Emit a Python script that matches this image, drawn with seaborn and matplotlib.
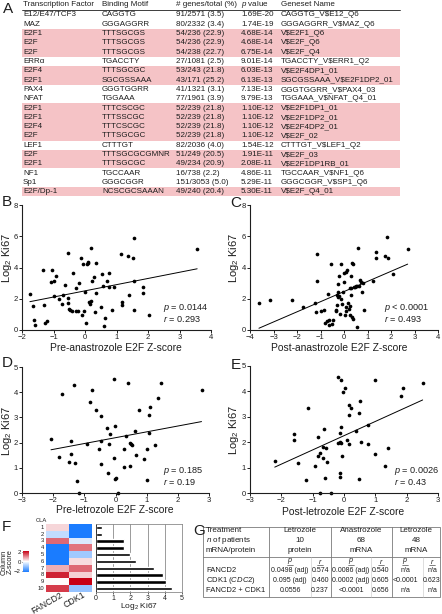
import numpy as np
import pandas as pd
import matplotlib
matplotlib.use("Agg")
import matplotlib.pyplot as plt
import seaborn as sns
from matplotlib.colors import LinearSegmentedColormap
from matplotlib.patches import Rectangle

# -------------------------
# Panel A: enrichment table
# -------------------------
tf_names = ["E12/E47/TCF3", "MAZ", "E2F1", "E2F", "E2F", "ERRα", "E2F4", "E2F1", "PAX4", "NFAT",
            "E2F1", "E2F1", "E2F4", "E2F", "LEF1", "E2F", "E2F1", "NF1", "Sp1", "E2F/Dp-1"]
motifs = ["CAGGTG", "GGGAGGRR", "TTTSGCGS", "TTTSGCGS", "TTTSGCGS", "TGACCTY", "TTTSGCGC", "SGCGSSAAA",
          "GGGTGGRR", "TGGAAA", "TTTCSCGC", "TTTSSCGC", "TTTCSCGC", "TTTSGCGC", "CTTTGT", "TTTSGCGCGMNR",
          "TTTSGCGC", "TGCCAAR", "GGGCGGR", "NCSCGCSAAAN"]
gene_counts = ["91/2571 (3.5)", "80/2332 (3.4)", "54/236 (22.9)", "54/236 (22.9)", "54/238 (22.7)",
               "27/1081 (2.5)", "53/243 (21.8)", "43/171 (25.2)", "41/1321 (3.1)", "77/1961 (3.9)",
               "52/239 (21.8)", "52/239 (21.8)", "52/239 (21.8)", "52/239 (21.8)", "82/2036 (4.0)",
               "51/249 (20.5)", "49/234 (20.9)", "16/738 (2.2)", "151/3053 (5.0)", "49/240 (20.4)"]
p_values = ["1.69E-20", "1.74E-19", "4.68E-14", "4.68E-14", "6.75E-14", "9.01E-14", "6.03E-13", "6.13E-13",
            "7.13E-13", "9.79E-13", "1.10E-12", "1.10E-12", "1.10E-12", "1.10E-12", "1.54E-12", "1.91E-11",
            "2.08E-11", "4.86E-11", "5.29E-11", "5.30E-11"]
geneset_names = ["CAGGTG_V$E12_Q6", "GGGAGGRR_V$MAZ_Q6", "V$E2F1_Q6", "V$E2F_Q6", "V$E2F_Q4",
                 "TGACCTY_V$ERR1_Q2", "V$E2F4DP1_01", "SGCGSSAAA_V$E2F1DP2_01", "GGGTGGRR_V$PAX4_03",
                 "TGGAAA_V$NFAT_Q4_01", "V$E2F1DP1_01", "V$E2F1DP2_01", "V$E2F4DP2_01", "V$E2F_02",
                 "CTTTGT_V$LEF1_Q2", "V$E2F_03", "V$E2F1DP1RB_01", "TGCCAAR_V$NF1_Q6", "GGGCGGR_V$SP1_Q6",
                 "V$E2F_Q4_01"]
table_header = ["Transcription Factor", "Binding Motif", "# genes/total (%)", "$p$ value", "Geneset Name"]
e2f_rows = [2, 3, 4, 6, 7, 10, 11, 12, 13, 15, 16, 19]

# -------------------------
# Panels B-E: scatter data (E2F Z-score vs log2 Ki67)
# -------------------------
pre_ana_z = [-1.75, -1.64, -1.63, -1.58, -1.32, -1.31, -1.27, -1.22, -1.09, -1.04, -1.0, -0.93, -0.98,
             -0.81, -0.73, -0.71, -0.63, -0.55, -0.54, -0.55, -0.52, -0.47, -0.39, -0.41, -0.30, -0.28,
             -0.22, -0.18, -0.14, -0.07, -0.09, -0.02, 0.01, 0.04, 0.06, 0.09, 0.11, 0.14, 0.16, 0.18,
             0.20, 0.22, 0.27, 0.32, 0.35, 0.36, 0.51, 0.53, 0.58, 0.60, 0.65, 0.70, 0.76, 0.77, 0.86,
             0.93, 1.15, 1.17, 1.16, 1.35, 1.41, 1.51, 1.57, 1.57, 1.55, 1.83, 1.83, 2.02, 3.56]
pre_ana_ki67 = [2.29, 1.51, 0.63, 0.29, 3.81, 1.62, 0.48, 0.57, 3.05, 3.81, 3.12, 3.43, 2.17, 2.0, 1.68,
                2.21, 2.9, 2.06, 4.95, 1.71, 1.37, 1.26, 3.64, 1.22, 1.22, 2.69, 1.22, 3.01, 4.59, 4.21,
                0.99, 1.22, 2.44, 0.42, 4.21, 4.32, 4.36, 1.79, 1.64, 1.88, 5.22, 3.16, 3.41, 1.16, 4.29,
                2.38, 1.47, 3.56, 2.84, 0.25, 0.78, 3.14, 2.76, 3.66, 1.28, 2.78, 4.88, 1.79, 1.62, 4.76,
                2.25, 4.61, 5.92, 3.12, 1.26, 2.36, 2.74, 0.95, 5.18]

post_ana_z = [-3.62, -3.13, -2.23, -1.76, -1.25, -1.21, -1.15, -1.13, -0.96, -0.87, -0.82, -0.71, -0.68,
              -0.65, -0.64, -0.54, -0.52, -0.48, -0.35, -0.33, -0.30, -0.28, -0.27, -0.26, -0.24, -0.20,
              -0.21, -0.17, -0.14, -0.11, -0.10, -0.06, -0.01, 0.0, 0.03, 0.07, 0.07, 0.09, 0.14, 0.16,
              0.21, 0.24, 0.26, 0.28, 0.27, 0.30, 0.31, 0.33, 0.33, 0.37, 0.38, 0.43, 0.45, 0.51, 0.54,
              0.57, 0.61, 0.65, 0.68, 0.71, 0.77, 0.82, 0.85, 1.22, 1.38, 1.38, 1.73, 1.84, 1.87, 2.07, 2.71]
post_ana_ki67 = [1.75, 1.94, 1.89, 1.45, 1.71, 1.16, 4.88, 3.16, 1.24, 1.26, 0.46, 0.57, 2.32, 0.32, 0.61,
                 4.23, 0.38, 0.67, 1.24, 1.31, 1.62, 2.21, 2.42, 2.95, 2.13, 2.17, 3.43, 1.05, 4.21, 2.0,
                 1.68, 2.46, 3.09, 3.62, 0.99, 1.47, 1.22, 3.73, 3.83, 1.73, 1.37, 2.67, 0.95, 2.25, 1.54,
                 3.45, 2.67, 4.32, 0.82, 4.25, 0.69, 2.74, 2.78, 2.84, 0.21, 2.84, 5.22, 2.84, 3.20, 3.09,
                 2.42, 3.01, 1.26, 3.14, 4.99, 4.61, 4.74, 5.94, 4.59, 3.58, 5.20]

pre_let_z = [-2.07, -1.80, -1.73, -1.49, -1.43, -1.43, -1.32, -1.30, -1.22, -1.17, -0.93, -0.82, -0.74,
             -0.61, -0.54, -0.48, -0.48, -0.46, -0.28, -0.24, -0.22, -0.18, -0.06, -0.06, -0.03, -0.01,
             0.03, 0.09, 0.27, 0.28, 0.33, 0.39, 0.45, 0.46, 0.49, 0.52, 0.62, 0.65, 0.74, 0.90, 1.0,
             1.02, 1.07, 1.09, 1.11, 1.26, 1.37, 1.45, 2.76]
pre_let_ki67 = [2.16, 1.44, 3.93, 1.23, 1.55, 2.05, 4.29, 1.20, 0.48, 0.0, 1.93, 3.60, 4.09, 3.31, 1.76,
                3.04, 1.16, 2.08, 2.56, 0.80, 1.96, 2.35, 4.51, 1.40, 2.65, 0.55, 0.59, 0.0, 1.75, 1.03,
                2.28, 4.37, 1.07, 1.97, 1.93, 1.89, 2.45, 1.51, 3.31, 1.36, 0.52, 1.75, 3.11, 2.40, 3.43,
                1.89, 3.77, 4.37, 4.07]

post_let_z = [-2.21, -1.61, -1.61, -1.46, -1.20, -1.16, -0.94, -0.84, -0.83, -0.77, -0.76, -0.67, -0.66,
              -0.65, -0.62, -0.57, -0.53, -0.42, -0.20, -0.19, -0.14, -0.13, -0.12, -0.12, -0.11, -0.10,
              -0.10, -0.06, -0.03, 0.03, 0.10, 0.15, 0.15, 0.17, 0.22, 0.37, 0.47, 0.49, 0.50, 0.53,
              0.78, 0.77, 0.99, 1.0, 1.31, 1.40, 1.83, 1.89, 2.51]
post_let_ki67 = [1.27, 2.33, 2.10, 1.19, 0.52, 3.35, 1.08, 2.20, 1.46, 1.59, 0.0, 1.36, 1.83, 2.51, 0.60,
                 1.77, 1.24, 0.0, 4.55, 1.97, 2.01, 2.38, 0.79, 0.63, 1.98, 4.43, 2.59, 1.46, 3.98, 4.13,
                 2.10, 1.92, 3.08, 3.48, 3.35, 2.45, 3.16, 0.57, 3.64, 2.01, 2.69, 1.94, 4.43, 1.55, 1.06,
                 1.79, 3.82, 4.13, 4.35]

# -------------------------
# Panel F: heatmap + Ki67 bars
# -------------------------
cla_ids = [str(i) for i in range(1, 11)]
fancd2_z = [0.35, -0.6, 1.3, -2.2, -2.2, -2.2, 0.7, 1.9, 0.05, 1.7]
cdk1_z = [-2.2, -2.2, -0.35, 1.2, -0.9, 0.3, 1.3, 0.4, 2.2, -1.0]
ki67_log2 = [0.35, 0.35, 1.62, 1.62, 2.0, 2.33, 3.35, 3.9, 4.07, 4.44]

# -------------------------
# Panel G: correlation table
# -------------------------
g_treatment = ["Letrozole", "Anastrozole", "Letrozole"]
g_patients = ["10", "68", "48"]
g_kind = ["protein", "mRNA", "mRNA"]
g_markers = ["FANCD2", "CDK1 ($\\mathit{CDC2}$)", "FANCD2 + CDK1"]
g_p = [["0.0498 (adj)", "0.0086 (adj)", "n/a"],
       ["0.095 (adj)", "0.0002 (adj)", "<0.0001"],
       ["0.0556", "<0.0001", "n/a"]]
g_r = [["0.574", "0.540", "n/a"],
       ["0.460", "0.605", "0.623"],
       ["0.237", "0.656", "n/a"]]

sns.set_theme(style="ticks")
plt.rcParams['font.family'] = ['Liberation Sans', 'DejaVu Sans']
plt.rcParams['mathtext.fontset'] = 'custom'
plt.rcParams['mathtext.rm'] = 'Liberation Sans'
plt.rcParams['mathtext.it'] = 'Liberation Sans:italic'

W, H = 442, 614
ink = "#1e1e1e"
fig = plt.figure(figsize=(W / 100, H / 100), dpi=100)


def px_axes(x0, y0, x1, y1):
    return fig.add_axes([x0 / W, 1 - y1 / H, (x1 - x0) / W, (y1 - y0) / H])


def scatter_panel(box, xs, ys, xlim, ylim, xticks, yticks):
    ax = px_axes(*box)
    sns.regplot(x=np.array(xs), y=np.array(ys), ax=ax, ci=None, color="black", truncate=True,
                scatter_kws=dict(s=7, linewidths=0, clip_on=False, alpha=1),
                line_kws=dict(lw=0.7, color="black"))
    ax.set_xlim(xlim)
    ax.set_ylim(ylim)
    ax.set_xticks(xticks)
    ax.set_yticks(yticks)
    sns.despine(ax=ax)
    for s in ["left", "bottom"]:
        ax.spines[s].set_linewidth(0.8)
        ax.spines[s].set_color(ink)
    ax.tick_params(labelsize=5.5, length=2, width=0.7, pad=0.8, colors=ink)
    ax.set_xlabel("")
    ax.set_ylabel("")
    return ax


scatter_panel((22, 205, 211, 330), pre_ana_z, pre_ana_ki67, (-2, 4), (0, 8), range(-2, 5), range(0, 9, 2))
scatter_panel((250, 205, 438, 330), post_ana_z, post_ana_ki67, (-4, 4), (0, 8), range(-4, 5), range(0, 9, 2))
scatter_panel((22, 367, 209, 493), pre_let_z, pre_let_ki67, (-3, 3), (0, 5), range(-3, 4), range(0, 6))
scatter_panel((250, 366, 438, 493), post_let_z, post_let_ki67, (-3, 3), (0, 5), range(-3, 4), range(0, 6))

# heatmap with its own colour bar
cmap = LinearSegmentedColormap.from_list("bwr_fig", ["#1a7cff", "#ffffff", "#c80014"])
heat_df = pd.DataFrame({"FANCD2": fancd2_z, "CDK1": cdk1_z}, index=cla_ids)
axh = px_axes(46, 524, 92, 592)
axc = px_axes(23, 551, 29, 572)
sns.heatmap(heat_df, ax=axh, cmap=cmap, vmin=-2.2, vmax=2.2, cbar=False,
            xticklabels=False, yticklabels=True, linewidths=0)
cb = fig.colorbar(axh.collections[0], cax=axc)
cb.outline.set_visible(False)
axh.tick_params(length=0, pad=1.5)
axh.set_yticklabels(cla_ids, fontsize=4.2, rotation=0, color=ink)
axc.yaxis.set_ticks_position("left")
axc.set_yticks([2, 0, -2])
axc.tick_params(labelsize=4.3, length=1.0, width=0.5, pad=0.6, colors=ink)

# Ki67 bars
axb = px_axes(96, 524, 182, 592)
sns.barplot(x=ki67_log2, y=cla_ids, orient="h", color="black", width=0.5, ax=axb, saturation=1)
axb.set_xlim(0, 5)
axb.set_xticks(range(6))
axb.set_yticks([])
axb.grid(axis="x", color="#8a8a8a", lw=0.6)
axb.set_axisbelow(True)
axb.set_xlabel("")
axb.set_ylabel("")
for s in axb.spines.values():
    s.set_color("#8a8a8a")
    s.set_linewidth(0.6)
axb.spines["left"].set_color(ink)
axb.tick_params(labelsize=5, length=1.5, width=0.5, pad=1, colors=ink)

# overlay in pixel coordinates for tables and labels
ov = fig.add_axes([0, 0, 1, 1])
ov.set_xlim(0, W)
ov.set_ylim(H, 0)
ov.axis("off")

# table A
col_x = [23, 102, 176, 241, 281]
row_y = [15 + 9.3 * i for i in range(len(tf_names))]
for i in e2f_rows:
    ov.add_patch(Rectangle((22, row_y[i] - 4.65), 378, 9.3, color="#f5c3c6", lw=0))
for x, h in zip(col_x, table_header):
    ov.text(x, 4.8, h, fontsize=5.8, color=ink, va="center")
ov.plot([22, 400], [9.6, 9.6], color=ink, lw=0.6)
for i in range(len(tf_names)):
    for x, s in zip(col_x, [tf_names[i], motifs[i], gene_counts[i], p_values[i], geneset_names[i]]):
        ov.text(x, row_y[i], s, fontsize=5.8, color=ink, va="center", parse_math=False)

# panel letters
for lbl, x, y in [("A", 3, 9), ("B", 2, 202), ("C", 230, 203), ("D", 2, 363),
                  ("E", 231, 365), ("F", 2, 527), ("G", 193, 531)]:
    ov.text(x, y, lbl, fontsize=11, color=ink, ha="left", va="center")

# axis labels
for s, x, y in [("Pre-anastrozole E2F Z-score", 116, 348), ("Post-anastrozole E2F Z-score", 339, 348),
                ("Pre-letrozole E2F Z-score", 115, 510), ("Post-letrozole E2F Z-score", 343.5, 512)]:
    ov.text(x, y, s, fontsize=7.4, color=ink, ha="center", va="center")
for x, y in [(7, 258), (234, 258), (7, 431), (234, 430)]:
    ov.text(x, y, "Log$_2$ Ki67", fontsize=8, color=ink, ha="center", va="center", rotation=90)

# stats
for x, y, ptxt, rtxt in [(163, 308, "$p$ = 0.0144", "$r$ = 0.293"),
                         (384, 308, "$p$ < 0.0001", "$r$ = 0.493"),
                         (163, 471, "$p$ = 0.185", "$r$ = 0.19"),
                         (394, 471, "$p$ = 0.0026", "$r$ = 0.43")]:
    ov.text(x, y, ptxt, fontsize=6.6, color=ink, va="center")
    ov.text(x, y + 11, rtxt, fontsize=6.6, color=ink, va="center")

# panel F extras
ov.text(41, 521, "CLA", fontsize=4.2, color=ink, ha="center", va="center")
ov.text(7.5, 562, "Column\nZ-score", fontsize=5.3, color=ink, ha="center", va="center",
        rotation=90, linespacing=0.9)
for name, x in zip(heat_df.columns, [62, 85]):
    ov.text(x, 594, name, fontsize=6.3, color=ink, ha="right", va="center",
            rotation=30, rotation_mode="anchor")
ov.text(139.5, 607, "Log$_2$ Ki67", fontsize=6, color=ink, ha="center", va="center")

# table G
gx0, gx1, gy0, gy1 = 203, 440, 527, 597
line_c = "#7a7a7a"
ov.add_patch(Rectangle((gx0, gy0), gx1 - gx0, gy1 - gy0, fill=False, ec=line_c, lw=0.6))
for x in [269, 331, 392]:
    ov.plot([x, x], [gy0, gy1], color=line_c, lw=0.6)
ov.plot([gx0, gx1], [557, 557], color=line_c, lw=0.6)
for x in [311, 371, 423]:
    ov.plot([x, x], [557, gy1], color="#c4c4c4", lw=0.4)

for s, y in zip(["Treatment", "$n$ of patients", "mRNA/protein"], [531, 541, 551]):
    ov.text(206, y, s, fontsize=5.8, color=ink, va="center")
head_cx = [300, 361.5, 416]
for j, cx in enumerate(head_cx):
    for s, y in zip([g_treatment[j], g_patients[j], g_kind[j]], [531, 541, 551]):
        ov.text(cx, y, s, fontsize=5.8, color=ink, ha="center", va="center")

p_cx = [290, 351, 405]
r_cx = [320, 381, 432]
for cx, t in [(c, "$p$") for c in p_cx] + [(c, "$r$") for c in r_cx]:
    ov.text(cx, 561.5, t, fontsize=5.2, color=ink, ha="center", va="center")
    ov.plot([cx - 3, cx + 3], [565, 565], color=ink, lw=0.4)

row_gy = [571, 581, 590.5]
for i, name in enumerate(g_markers):
    ov.text(206, row_gy[i], name, fontsize=5.5, color=ink, va="center")
    for j in range(3):
        ov.text(p_cx[j], row_gy[i], g_p[i][j], fontsize=5.0, color=ink, ha="center", va="center")
        ov.text(r_cx[j], row_gy[i], g_r[i][j], fontsize=5.0, color=ink, ha="center", va="center")

fig.savefig("out.png", dpi=100)
